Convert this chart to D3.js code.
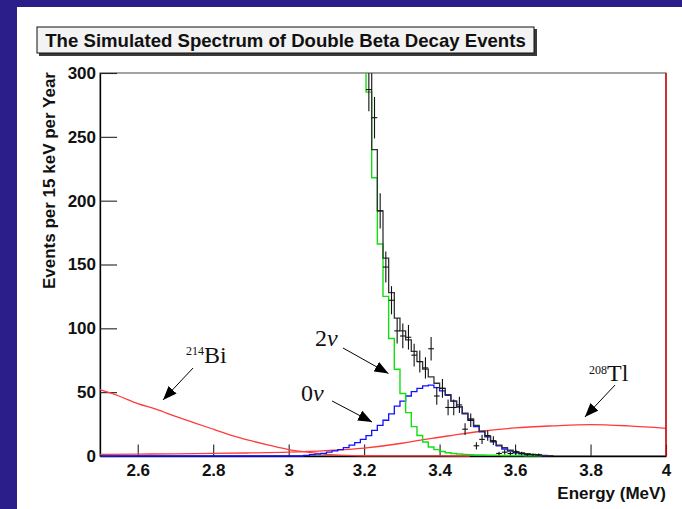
<!DOCTYPE html>
<html>
<head>
<meta charset="utf-8">
<script src="https://cdn.jsdelivr.net/npm/d3@7"></script>
<style>
  body { margin: 0; background: #fff; }
  svg { display: block; }
</style>
</head>
<body>
<svg id="chart" width="682" height="509"></svg>
<script>
// Histogram binning: bin k spans [2.5 + 0.015k, 2.5 + 0.015(k+1)] MeV (15 keV bins)
const binLow = 2.5;
const binWidth = 0.015;

// 2-neutrino double beta spectrum (green), first bin index and contents
const twoNuStart = 46;
const twoNu = [370, 285, 218, 166, 125, 92, 68, 49, 34, 23, 16, 11, 7, 5, 3.5, 2.6, 2, 1.6,
               1.3, 1.1, 0.9, 0.8, 0.7, 0.6, 0.5, 0.45, 0.4, 0.35, 0.3, 0.25, 0.2, 0.15];

// Neutrinoless double beta peak (blue)
const zeroNuStart = 36;
const zeroNu = [0.5, 1, 1.5, 2, 3, 4, 5, 6.5, 8.5, 10.5, 13, 16, 20, 24, 28, 33, 39, 43, 47,
                50.5, 53, 55, 55.5, 53.5, 51, 47.5, 43, 38.5, 33, 28, 23, 19, 15, 11, 8, 5.5,
                3.8, 2.5, 1.6, 1, 0.6, 0.3, 0.1];

// Summed double beta spectrum (black)
const totalStart = 47;
const total = [310, 240, 192, 155, 128, 108, 98, 91, 82, 74, 68, 62, 57, 53, 48, 43, 38.5,
               33.5, 29, 24, 19.5, 15.5, 11.5, 8.5, 6.5, 4.5, 3.5, 2.5, 1.8, 1.2, 0.8, 0.5, 0.3];

// Simulated event counts per bin (points with sqrt(N) errors)
const dataStart = 47;
const dataCounts = [287, 265, 192, 148, 122, 98, 94, 93, 79, 74, 69, 84, 47, 53, 38, 38, 40,
                    21, 28, 8, 13, 16, 12, 2, 3, 2, 3, 2, 1, 1, 1];

// 214Bi background (red)
const biEnergy = [2.5, 2.55, 2.6, 2.65, 2.7, 2.75, 2.8, 2.85, 2.9, 2.95, 3.0, 3.05, 3.1, 3.15,
                  3.2, 3.3, 3.4, 3.48];
const biCounts = [52, 47, 41, 36.5, 31, 26, 21, 16, 12, 8.3, 5, 3, 1.3, 0.5, 0.2, 0.1, 0.05, 0];

// 208Tl background (red)
const tlEnergy = [2.5, 2.6, 2.7, 2.8, 2.9, 3.0, 3.1, 3.2, 3.3, 3.35, 3.4, 3.45, 3.5, 3.6, 3.7,
                  3.8, 3.9, 4.0];
const tlCounts = [1.3, 1.5, 1.7, 2.0, 2.4, 3.0, 4.2, 6.2, 10, 12.5, 14.7, 17, 19, 22, 23.6,
                  24.6, 23.6, 21.7];

// Axes
const xMajorTicks = [2.6, 2.8, 3, 3.2, 3.4, 3.6, 3.8, 4];
const xTickLabels = ["2.6", "2.8", "3", "3.2", "3.4", "3.6", "3.8", "4"];
const xMinorStep = 0.05;
const yMajorTicks = [0, 50, 100, 150, 200, 250, 300];
const yMinorStep = 10;

const titleText = "The Simulated Spectrum of Double Beta Decay Events";
const xTitle = "Energy (MeV)";
const yTitle = "Events per 15 keV per Year";

const svg = d3.select("#chart");
const W = 682, H = 509;

// slide background
svg.append("rect").attr("width", W).attr("height", H).attr("fill", "#2b1d8a");
svg.append("rect").attr("x", 17).attr("y", 7).attr("width", W - 17).attr("height", H - 7)
   .attr("fill", "#ffffff");

const x = d3.scaleLinear().domain([2.5, 4]).range([100, 666]);
const y = d3.scaleLinear().domain([0, 300]).range([456, 73]);

const sansBold = "'Liberation Sans', Arial, Helvetica, sans-serif";
const serif = "'Liberation Serif', 'Times New Roman', 'DejaVu Serif', serif";

// title pave with shadow
const titleG = svg.append("g");
titleG.append("rect").attr("x", 39).attr("y", 29).attr("width", 498).attr("height", 27)
      .attr("fill", "#3a3a3a");
titleG.append("rect").attr("x", 37).attr("y", 27).attr("width", 497).attr("height", 26)
      .attr("fill", "#f3f3f3").attr("stroke", "#111").attr("stroke-width", 1);
titleG.append("text").attr("x", 285.5).attr("y", 47).attr("text-anchor", "middle")
      .attr("font-family", sansBold).attr("font-weight", "bold").attr("font-size", 18.6)
      .attr("fill", "#111").text(titleText);

// frame
svg.append("rect").attr("x", x(2.5)).attr("y", y(300))
   .attr("width", x(4) - x(2.5)).attr("height", y(0) - y(300))
   .attr("fill", "none").attr("stroke", "#666").attr("stroke-width", 1.2);

// minor ticks
const xMinor = d3.range(2.5, 4.0001, xMinorStep).map(v => +v.toFixed(3));
const yMinor = d3.range(0, 300.001, yMinorStep);

const xAxisG = svg.append("g").attr("transform", `translate(0,${y(0)})`);
xAxisG.call(d3.axisBottom(x).tickValues(xMinor).tickSize(-5.8).tickSizeOuter(0).tickFormat(""));
xAxisG.call(d3.axisBottom(x).tickValues(xMajorTicks).tickSize(-11.5).tickSizeOuter(0)
        .tickPadding(8).tickFormat((d, i) => xTickLabels[i]));

const yAxisG = svg.append("g").attr("transform", `translate(${x(2.5)},0)`);
yAxisG.call(d3.axisLeft(y).tickValues(yMinor).tickSize(-8.5).tickSizeOuter(0).tickFormat(""));
yAxisG.call(d3.axisLeft(y).tickValues(yMajorTicks).tickSize(-17).tickSizeOuter(0)
        .tickPadding(4).tickFormat(d3.format("d")));

svg.selectAll(".domain").attr("stroke", "#000").attr("stroke-width", 1.3);
svg.selectAll(".tick line").attr("stroke", "#222").attr("stroke-width", 1.1);
svg.selectAll(".tick text").attr("font-family", sansBold).attr("font-weight", "bold")
   .attr("font-size", 17).attr("fill", "#111");

// axis titles
svg.append("text").attr("x", x(4)).attr("y", 499).attr("text-anchor", "end")
   .attr("font-family", sansBold).attr("font-weight", "bold").attr("font-size", 17)
   .attr("fill", "#111").text(xTitle);
svg.append("text").attr("transform", `translate(55,${y(300) - 1}) rotate(-90)`)
   .attr("text-anchor", "end")
   .attr("font-family", sansBold).attr("font-weight", "bold").attr("font-size", 17)
   .attr("fill", "#111").text(yTitle);

// plotting area clip
svg.append("clipPath").attr("id", "plotClip").append("rect")
   .attr("x", x(2.5)).attr("y", y(300))
   .attr("width", x(4) - x(2.5)).attr("height", y(0) - y(300) + 2);
const plot = svg.append("g").attr("clip-path", "url(#plotClip)");

const line = d3.line().x(d => x(d[0])).y(d => y(d[1]));
const smooth = d3.line().x(d => x(d[0])).y(d => y(d[1])).curve(d3.curveMonotoneX);

function stepPoints(start, values) {
  const pts = [];
  values.forEach((v, i) => {
    const e0 = binLow + (start + i) * binWidth;
    pts.push([e0, v], [e0 + binWidth, v]);
  });
  return pts;
}
function lastEdge(start, values) {
  return binLow + (start + values.length) * binWidth;
}

// backgrounds
plot.append("path").attr("d", smooth(tlEnergy.map((e, i) => [e, tlCounts[i]])))
    .attr("fill", "none").attr("stroke", "#ff3b3b").attr("stroke-width", 1.3);
plot.append("path").attr("d", smooth(biEnergy.map((e, i) => [e, biCounts[i]])))
    .attr("fill", "none").attr("stroke", "#ff3b3b").attr("stroke-width", 1.3);

// 0nu peak (drawn along the baseline from the start of the range)
const zeroPts = [[x.domain()[0], 0], [binLow + zeroNuStart * binWidth, 0]]
  .concat(stepPoints(zeroNuStart, zeroNu))
  .concat([[lastEdge(zeroNuStart, zeroNu), 0]]);
plot.append("path").attr("d", line(zeroPts))
    .attr("fill", "none").attr("stroke", "#1010ff").attr("stroke-width", 1.3);

// 2nu spectrum
const twoPts = stepPoints(twoNuStart, twoNu).concat([[lastEdge(twoNuStart, twoNu), 0]]);
plot.append("path").attr("d", line(twoPts))
    .attr("fill", "none").attr("stroke", "#10e010").attr("stroke-width", 1.4);

// sum
const totPts = stepPoints(totalStart, total).concat([[lastEdge(totalStart, total), 0]]);
plot.append("path").attr("d", line(totPts))
    .attr("fill", "none").attr("stroke", "#333").attr("stroke-width", 1.3);

// simulated data points with sqrt(N) errors
const pts = plot.append("g").attr("stroke", "#111").attr("stroke-width", 1.1);
dataCounts.forEach((n, i) => {
  const e0 = binLow + (dataStart + i) * binWidth;
  const ec = e0 + binWidth / 2;
  const err = Math.sqrt(n);
  pts.append("line").attr("x1", x(e0)).attr("x2", x(e0 + binWidth))
     .attr("y1", y(n)).attr("y2", y(n));
  pts.append("line").attr("x1", x(ec)).attr("x2", x(ec))
     .attr("y1", y(n - err)).attr("y2", y(n + err));
});

// right edge
svg.append("line").attr("x1", x(4)).attr("x2", x(4)).attr("y1", y(300)).attr("y2", y(0))
   .attr("stroke", "#e00000").attr("stroke-width", 1.4);

// annotations with arrows
const defs = svg.append("defs");
defs.append("marker").attr("id", "arrowHead").attr("viewBox", "0 0 14 11")
    .attr("refX", 14).attr("refY", 5.5).attr("markerWidth", 14).attr("markerHeight", 11)
    .attr("markerUnits", "userSpaceOnUse").attr("orient", "auto")
    .append("path").attr("d", "M0,0 L14,5.5 L0,11 Z").attr("fill", "#000");

function arrow(e1, v1, e2, v2) {
  svg.append("line").attr("x1", x(e1)).attr("y1", y(v1)).attr("x2", x(e2)).attr("y2", y(v2))
     .attr("stroke", "#000").attr("stroke-width", 1).attr("marker-end", "url(#arrowHead)");
}
function isotope(e, v, mass, symbol) {
  const t = svg.append("text").attr("x", x(e)).attr("y", y(v))
     .attr("font-family", serif).attr("fill", "#111");
  t.append("tspan").attr("font-size", 12).attr("dy", -7.5).text(mass);
  t.append("tspan").attr("font-size", 24).attr("dy", 7.5).text(symbol);
}
function neutrino(e, v, n) {
  const t = svg.append("text").attr("x", x(e)).attr("y", y(v))
     .attr("font-family", serif).attr("font-size", 24).attr("fill", "#111");
  t.append("tspan").text(n);
  t.append("tspan").attr("font-style", "italic").text("ν");
}

isotope(2.728, 73.2, "214", "Bi");
arrow(2.7465, 68.9, 2.667, 43.9);

neutrino(3.07, 85.8, "2");
arrow(3.144, 84.6, 3.2646, 64.6);

neutrino(3.033, 43.1, "0");
arrow(3.115, 43.1, 3.221, 26.6);

isotope(3.796, 58.7, "208", "Tl");
arrow(3.865, 55.6, 3.785, 30.5);
</script>
</body>
</html>
